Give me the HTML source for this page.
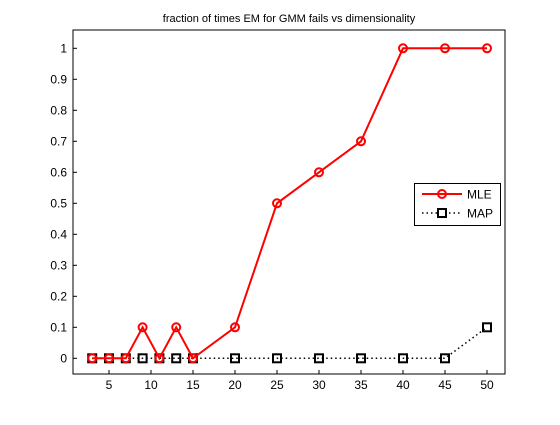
<!DOCTYPE html>
<html><head><meta charset="utf-8"><style>
body{margin:0;background:#fff}
svg text{font-family:"Liberation Sans",sans-serif;fill:#000}
</style></head><body>
<svg id="chart" width="560" height="420" xmlns="http://www.w3.org/2000/svg">
<rect x="0" y="0" width="560" height="420" fill="#fff"/>
<text x="289" y="22" font-size="11" text-anchor="middle">fraction of times EM for GMM fails vs dimensionality</text>
<rect x="73" y="30" width="432" height="344" fill="none" stroke="#000" stroke-width="1"/>
<g id="xticks"></g><g id="yticks"></g><g id="series"></g>
<g>
<rect x="414.5" y="183.5" width="86" height="42" fill="#fff" stroke="#000"/>
<line x1="422" y1="194" x2="462" y2="194" stroke="#f00" stroke-width="2"/>
<circle cx="442" cy="194" r="4" fill="none" stroke="#f00" stroke-width="2"/>
<text x="467" y="198.5" font-size="12">MLE</text>
<line x1="422" y1="213" x2="462" y2="213" stroke="#000" stroke-width="1.5" stroke-dasharray="1.5,3"/>
<rect x="438" y="209" width="8" height="8" fill="#fff" stroke="#000" stroke-width="2"/>
<text x="467" y="217.5" font-size="12">MAP</text>
</g>
</svg>
<script>
const dims=[3,5,7,9,11,13,15,20,25,30,35,40,45,50];
const mle=[0,0,0,0.1,0,0.1,0,0.1,0.5,0.6,0.7,1,1,1];
const map=[0,0,0,0,0,0,0,0,0,0,0,0,0,0.1];
const xTicks=[5,10,15,20,25,30,35,40,45,50];
const yTicks=[0,0.1,0.2,0.3,0.4,0.5,0.6,0.7,0.8,0.9,1];
const yTickLabels=["0","0.1","0.2","0.3","0.4","0.5","0.6","0.7","0.8","0.9","1"];
const NS="http://www.w3.org/2000/svg";
const X=v=>109+(v-5)*8.4;
const Y=v=>358.3-v*310;
function mk(t,a,p){const e=document.createElementNS(NS,t);for(const k in a)e.setAttribute(k,a[k]);p.appendChild(e);return e;}
const xt=document.getElementById('xticks'),yt=document.getElementById('yticks'),se=document.getElementById('series');
xTicks.forEach(v=>{
 const l=mk('line',{x1:X(v),x2:X(v),y1:374,y2:370,stroke:'#000'},xt);
 
 
 const t=mk('text',{x:X(v),y:389,'font-size':12,'text-anchor':'middle'},xt);t.textContent=v;
 
 
});
yTicks.forEach((v,i)=>{
 const l=mk('line',{x1:73,x2:77,y1:Y(v),y2:Y(v),stroke:'#000'},yt);
 
 
 const t=mk('text',{x:67,y:Y(v)+4,'font-size':12,'text-anchor':'end'},yt);t.textContent=yTickLabels[i];
 
 
});
const mapLine=mk('polyline',{points:dims.map((d,i)=>X(d)+','+Y(map[i])).join(' '),fill:'none',stroke:'#000','stroke-width':1.5,'stroke-dasharray':'1.5,3'},se);


dims.forEach((d,i)=>{
 const r=mk('rect',{x:X(d)-4,y:Y(map[i])-4,width:8,height:8,fill:'none',stroke:'#000','stroke-width':2},se);
 
 
});
const mleLine=mk('polyline',{points:dims.map((d,i)=>X(d)+','+Y(mle[i])).join(' '),fill:'none',stroke:'#f00','stroke-width':2},se);


dims.forEach((d,i)=>{
 const c=mk('circle',{cx:X(d),cy:Y(mle[i]),r:4,fill:'none',stroke:'#f00','stroke-width':2},se);
 
 
});
</script>
</body></html>
